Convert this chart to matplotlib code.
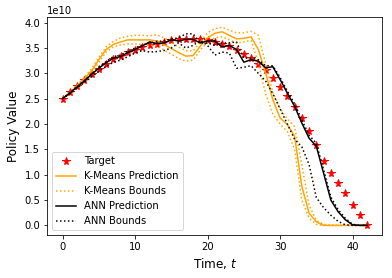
import numpy as np
import matplotlib
matplotlib.use('Agg')
import matplotlib.pyplot as plt

t = list(range(43))

target = [2.50, 2.63, 2.75, 2.86, 2.98, 3.09, 3.19, 3.29, 3.35, 3.42,
          3.47, 3.51, 3.56, 3.58, 3.62, 3.65, 3.67, 3.67, 3.68, 3.67,
          3.66, 3.62, 3.58, 3.53, 3.47, 3.39, 3.30, 3.18, 3.06, 2.90,
          2.74, 2.56, 2.34, 2.11, 1.87, 1.58, 1.28, 1.04, 0.83, 0.63,
          0.41, 0.21, 0.0]

kmeans_pred = [2.50, 2.62, 2.75, 2.89, 3.05, 3.27, 3.47, 3.57, 3.62, 3.66,
               3.66, 3.66, 3.66, 3.64, 3.57, 3.49, 3.41, 3.34, 3.35, 3.54,
               3.70, 3.79, 3.82, 3.75, 3.68, 3.69, 3.72, 3.47, 3.01, 2.48,
               2.12, 1.99, 1.76, 0.77, 0.24, 0.07, 0.0, 0.0, 0.0, 0.0,
               0.0, 0.0, 0.0]
kmeans_upper = [2.50, 2.63, 2.77, 2.92, 3.09, 3.31, 3.52, 3.63, 3.70, 3.73,
                3.75, 3.75, 3.74, 3.76, 3.70, 3.62, 3.52, 3.45, 3.44, 3.62,
                3.80, 3.88, 3.91, 3.85, 3.80, 3.80, 3.83, 3.75, 3.20, 2.62,
                2.30, 2.10, 1.95, 1.20, 0.40, 0.10, 0.02, 0.0, 0.0, 0.0,
                0.0, 0.0, 0.0]
kmeans_lower = [2.50, 2.61, 2.73, 2.86, 3.01, 3.22, 3.42, 3.52, 3.56, 3.58,
                3.58, 3.57, 3.56, 3.54, 3.46, 3.38, 3.29, 3.24, 3.26, 3.46,
                3.62, 3.70, 3.72, 3.66, 3.60, 3.62, 3.65, 3.20, 2.60, 2.20,
                2.00, 1.85, 1.50, 0.50, 0.15, 0.02, 0.0, 0.0, 0.0, 0.0,
                0.0, 0.0, 0.0]

ann_pred = [2.50, 2.61, 2.73, 2.85, 2.98, 3.10, 3.21, 3.30, 3.33, 3.41,
            3.47, 3.54, 3.62, 3.59, 3.60, 3.66, 3.64, 3.67, 3.67, 3.60,
            3.64, 3.64, 3.52, 3.55, 3.47, 3.22, 3.27, 3.24, 3.11, 3.13,
            2.88, 2.61, 2.35, 2.02, 1.72, 1.56, 1.03, 0.50, 0.27, 0.11,
            0.01, 0.0, 0.0]
ann_upper = [2.50, 2.62, 2.74, 2.86, 2.99, 3.12, 3.23, 3.33, 3.36, 3.44,
             3.50, 3.56, 3.60, 3.63, 3.64, 3.68, 3.70, 3.78, 3.78, 3.60,
             3.60, 3.55, 3.60, 3.60, 3.62, 3.30, 3.30, 3.27, 3.15, 3.15,
             2.92, 2.65, 2.40, 2.08, 1.78, 1.62, 1.10, 0.56, 0.31, 0.14,
             0.02, 0.0, 0.0]
ann_lower = [2.50, 2.60, 2.71, 2.82, 2.93, 3.04, 3.13, 3.22, 3.26, 3.33,
             3.40, 3.45, 3.42, 3.43, 3.45, 3.50, 3.60, 3.50, 3.55, 3.65,
             3.55, 3.36, 3.42, 3.40, 3.10, 3.12, 3.15, 3.00, 2.85, 2.60,
             2.30, 2.00, 1.70, 1.55, 1.20, 0.55, 0.35, 0.20, 0.08, 0.01,
             0.0, 0.0, 0.0]

scale = 1e10

fig = plt.figure(figsize=(392 / 72, 278 / 72), dpi=72)
ax = fig.add_axes([0.1207, 0.1537, 0.8546, 0.7840])

ax.plot(t, np.array(target) * scale, 'r*', markersize=8, label='Target')
ax.plot(t, np.array(kmeans_pred) * scale, color='orange', label='K-Means Prediction')
ax.plot(t, np.array(kmeans_upper) * scale, color='orange', linestyle=':', label='K-Means Bounds')
ax.plot(t, np.array(kmeans_lower) * scale, color='orange', linestyle=':')
ax.plot(t, np.array(ann_pred) * scale, color='black', label='ANN Prediction')
ax.plot(t, np.array(ann_upper) * scale, color='black', linestyle=':', label='ANN Bounds')
ax.plot(t, np.array(ann_lower) * scale, color='black', linestyle=':')

ax.set_xlabel('Time, $t$', fontsize=12)
ax.set_ylabel('Policy Value', fontsize=12)
ax.legend(loc='lower left')

fig.savefig('out.png', dpi=72)
